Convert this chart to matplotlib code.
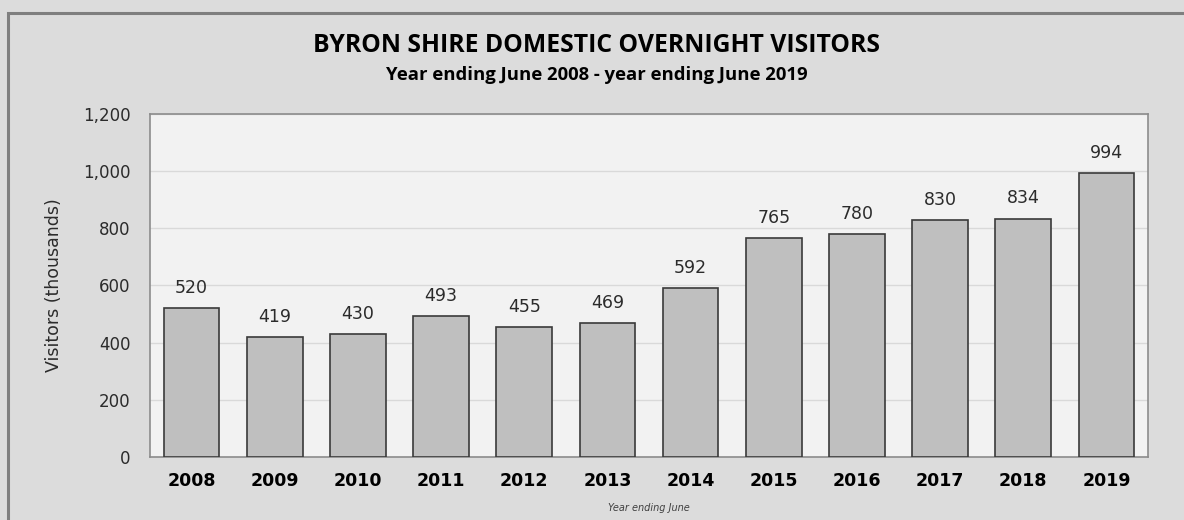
import matplotlib.pyplot as plt
from matplotlib.patches import Rectangle
from matplotlib.ticker import FuncFormatter

# visitor numbers (thousands), year ending June
years = ['2008', '2009', '2010', '2011', '2012', '2013',
         '2014', '2015', '2016', '2017', '2018', '2019']
visitors = [520, 419, 430, 493, 455, 469, 592, 765, 780, 830, 834, 994]

FIG_BG = '#dcdcdc'
PLOT_BG = '#f2f2f2'
BAR_FC = '#bfbfbf'
BAR_EC = '#3a3a3a'
TEXT = '#2b2b2b'

fig = plt.figure(figsize=(11.84, 5.2), dpi=100, facecolor=FIG_BG)
ax = fig.add_axes([0.1267, 0.1212, 0.8429, 0.6596], facecolor=PLOT_BG)

# outer frame of the chart
fig.patches.append(Rectangle((0.0065, -0.05), 1.05, 1.025, transform=fig.transFigure,
                             fill=False, ec='#7f7f7f', lw=2.2, zorder=0))

x = range(len(years))
bars = ax.bar(x, visitors, width=0.67, color=BAR_FC, edgecolor=BAR_EC, linewidth=1.2, zorder=3)

for xi, v in zip(x, visitors):
    ax.annotate(str(v), (xi, v), xytext=(0, 8), textcoords='offset points',
                ha='center', va='bottom', fontsize=12.5, color=TEXT, family='DejaVu Sans')

ax.set_xlim(-0.5, len(years) - 0.5)
ax.set_ylim(0, 1200)
ax.set_yticks(range(0, 1201, 200))
ax.yaxis.set_major_formatter(FuncFormatter(lambda v, p: f'{int(v):,}'))
ax.grid(axis='y', color='#d9d9d9', lw=1, zorder=0)
ax.set_axisbelow(True)

ax.set_xticks(list(x))
ax.set_xticklabels(years, fontsize=12.5, fontweight='heavy', color='black')
ax.tick_params(axis='x', length=0, pad=11)
ax.tick_params(axis='y', length=0, pad=14, labelsize=12, labelcolor=TEXT)

for s in ax.spines.values():
    s.set_color('#8c8c8c')
    s.set_linewidth(1.2)

ax.set_ylabel('Visitors (thousands)', fontsize=12.5, color=TEXT, labelpad=14)
ax.set_xlabel('Year ending June', fontsize=7, style='italic', color='#404040', labelpad=9)

fig.text(0.504, 0.912, 'BYRON SHIRE DOMESTIC OVERNIGHT VISITORS', ha='center', va='center',
         fontsize=17.8, fontweight='bold', family='Open Sans', color='black')
fig.text(0.504, 0.856, 'Year ending June 2008 - year ending June 2019', ha='center', va='center',
         fontsize=13.3, fontweight='bold', family='Open Sans', color='black')

fig.savefig('out.png', dpi=100, facecolor=FIG_BG)
